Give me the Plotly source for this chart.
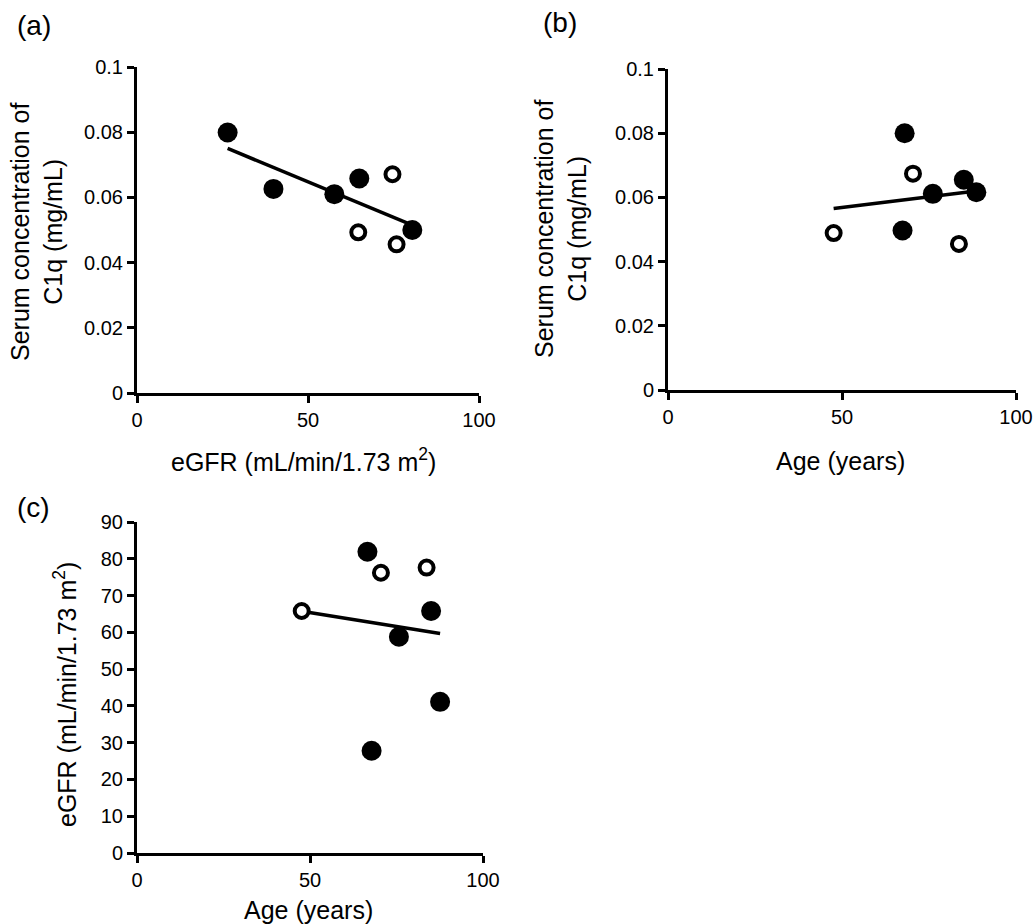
import numpy as np
import plotly.graph_objects as go

# ---------------- data ----------------
# Panel (a): serum C1q vs eGFR
a_egfr_filled = [26.5, 39.9, 57.7, 65.0, 80.5]
a_c1q_filled = [0.0799, 0.0626, 0.0610, 0.0658, 0.0500]
a_egfr_open = [74.7, 64.7, 75.9]
a_c1q_open = [0.0671, 0.0493, 0.0456]

# Panel (b): serum C1q vs age
b_age_filled = [68.0, 88.6, 76.1, 85.0, 67.4]
b_c1q_filled = [0.0800, 0.0616, 0.0611, 0.0655, 0.0497]
b_age_open = [70.4, 47.6, 83.6]
b_c1q_open = [0.0674, 0.0489, 0.0455]

# Panel (c): eGFR vs age
c_age_filled = [67.8, 87.6, 75.7, 85.0, 66.6]
c_egfr_filled = [27.8, 41.1, 58.8, 65.8, 81.9]
c_age_open = [70.5, 47.6, 83.7]
c_egfr_open = [76.2, 65.8, 77.6]

c1q_ticks = [0, 0.02, 0.04, 0.06, 0.08, 0.1]
c1q_ticktext = ["0", "0.02", "0.04", "0.06", "0.08", "0.1"]
egfr_ticks = [0, 10, 20, 30, 40, 50, 60, 70, 80, 90]
x_ticks = [0, 50, 100]

panel_labels = ["(a)", "(b)", "(c)"]
xtitle_egfr = "eGFR (mL/min/1.73 m<sup>2</sup>)"
xtitle_age = "Age (years)"
ytitle_c1q = "Serum concentration of<br>C1q (mg/mL)"
ytitle_egfr = "eGFR (mL/min/1.73 m<sup>2</sup>)"

# ---------------- figure ----------------
W, H = 1035, 924
FONT = "Liberation Sans, Arial, sans-serif"
TICK_SIZE = 20
TITLE_SIZE = 25
LABEL_SIZE = 28

def px_x(p):
    return p / W

def px_y(p):
    return 1 - p / H

fig = go.Figure()

def add_panel(fig, xs_f, ys_f, xs_o, ys_o, xa, ya):
    xs_all = np.array(list(xs_f) + list(xs_o))
    ys_all = np.array(list(ys_f) + list(ys_o))
    slope, intercept = np.polyfit(xs_all, ys_all, 1)
    lx = np.array([xs_all.min(), xs_all.max()])
    ly = slope * lx + intercept
    fig.add_trace(go.Scatter(x=lx, y=ly, mode="lines",
                             line=dict(color="black", width=3.5),
                             xaxis=xa, yaxis=ya, showlegend=False,
                             hoverinfo="skip"))
    fig.add_trace(go.Scatter(x=xs_f, y=ys_f, mode="markers",
                             marker=dict(symbol="circle", size=20, color="black",
                                         line=dict(width=0)),
                             xaxis=xa, yaxis=ya, showlegend=False))
    fig.add_trace(go.Scatter(x=xs_o, y=ys_o, mode="markers",
                             marker=dict(symbol="circle", size=14, color="white",
                                         line=dict(width=4, color="black")),
                             xaxis=xa, yaxis=ya, showlegend=False))

add_panel(fig, a_egfr_filled, a_c1q_filled, a_egfr_open, a_c1q_open, "x", "y")
add_panel(fig, b_age_filled, b_c1q_filled, b_age_open, b_c1q_open, "x2", "y2")
add_panel(fig, c_age_filled, c_egfr_filled, c_age_open, c_egfr_open, "x3", "y3")

axis_common = dict(showgrid=False, zeroline=False, showline=True,
                   linecolor="black", linewidth=3, ticks="outside",
                   ticklen=7, tickwidth=3, tickcolor="black", automargin=False,
                   tickfont=dict(family=FONT, size=TICK_SIZE, color="black"))

fig.update_layout(
    width=W, height=H, autosize=False,
    margin=dict(l=0, r=0, t=0, b=0, pad=0),
    paper_bgcolor="white", plot_bgcolor="white",
    font=dict(family=FONT, color="black"),
    xaxis=dict(domain=[px_x(137), px_x(479)], range=[0, 100],
               tickvals=x_ticks, anchor="y", **axis_common),
    yaxis=dict(domain=[px_y(393), px_y(67)], range=[0, 0.1],
               tickvals=c1q_ticks, ticktext=c1q_ticktext, anchor="x", **axis_common),
    xaxis2=dict(domain=[px_x(668), px_x(1016)], range=[0, 100],
                tickvals=x_ticks, anchor="y2", **axis_common),
    yaxis2=dict(domain=[px_y(390), px_y(69)], range=[0, 0.1],
                tickvals=c1q_ticks, ticktext=c1q_ticktext, anchor="x2", **axis_common),
    xaxis3=dict(domain=[px_x(137), px_x(483)], range=[0, 100],
                tickvals=x_ticks, anchor="y3", **axis_common),
    yaxis3=dict(domain=[px_y(853), px_y(522)], range=[0, 90],
                tickvals=egfr_ticks, anchor="x3", **axis_common),
)

def ann(text, x, y, size, angle=0):
    fig.add_annotation(text=text, x=px_x(x), y=px_y(y), xref="paper", yref="paper",
                       showarrow=False, xanchor="center", yanchor="middle",
                       textangle=angle, font=dict(family=FONT, size=size, color="black"))

# panel labels
ann(panel_labels[0], 34, 26, LABEL_SIZE)
ann(panel_labels[1], 560, 23, LABEL_SIZE)
ann(panel_labels[2], 33, 507, LABEL_SIZE)

# axis titles
ann(xtitle_egfr, 303, 460, TITLE_SIZE)
ann(xtitle_age, 840, 461, TITLE_SIZE)
ann(xtitle_age, 308, 910, TITLE_SIZE)
ann(ytitle_c1q, 37, 232, TITLE_SIZE, -90)
ann(ytitle_c1q, 560, 229, TITLE_SIZE, -90)
ann(ytitle_egfr, 65, 695, TITLE_SIZE, -90)

fig.write_html(
    "out.html",
    config={"displayModeBar": False},
    post_script="document.body.style.margin='0';document.body.style.padding='0';"
                "document.documentElement.style.overflow='hidden';",
)
